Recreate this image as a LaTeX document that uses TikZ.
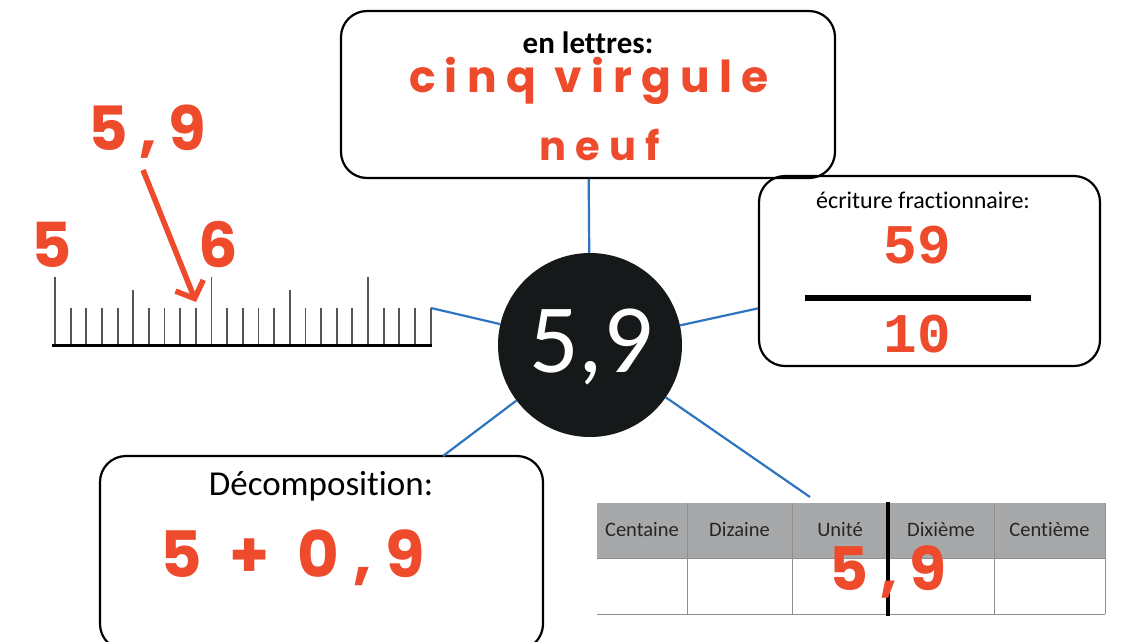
\documentclass[tikz,border=0pt]{standalone}
\usepackage{fontspec}
\setmainfont{Carlito}[Ligatures={NoCommon,NoRequired,NoContextual}]
\newfontfamily\redfont{Poppins}
\newfontfamily\courfont{Liberation Mono}
\usetikzlibrary{arrows.meta}
\definecolor{myred}{HTML}{EE4A2C}
\definecolor{myblue}{HTML}{2E74C0}
\definecolor{circ}{HTML}{161919}
\definecolor{hdr}{HTML}{A6A8A9}
\definecolor{tick}{HTML}{555555}
\definecolor{grid}{HTML}{8E8E8E}
\tikzset{
  card/.style={draw=black, line width=2.2pt, rounded corners=26pt, inner sep=0pt},
  conn/.style={draw=myblue, line width=2.2pt},
  redtxt/.style={text=myred, inner sep=0pt, anchor=base},
  blacktxt/.style={text=black, inner sep=0pt, anchor=base},
  hdrtxt/.style={text=black!85, inner sep=0pt, anchor=base, font=\fontsize{20.5}{22}\selectfont},
}
\newcommand{\fsz}[1]{\fontsize{#1}{#1}\selectfont}
\begin{document}
\begin{tikzpicture}[x=1pt,y=-1pt]
\useasboundingbox (0,0) rectangle (1128,641);
\fill[white] (0,0) rectangle (1128,641);

% --- boxes
\node[card, minimum width=494pt, minimum height=167pt] (topbox) at (588,94.5) {};
\node[card, minimum width=341pt, minimum height=190pt] (rightbox) at (929.5,271) {};
\node[card, minimum width=443pt, minimum height=194pt] (decobox) at (321.5,553) {};

% --- top box texts
\node[blacktxt, font=\fsz{31}\bfseries] (enl) at (588,53) {en lettres:};
\node[redtxt, font=\redfont\bfseries\fsz{44}\addfontfeatures{LetterSpace=21}] (cinq) at (589,92) {cinq virgule};
\node[redtxt, font=\redfont\bfseries\fsz{40}\addfontfeatures{LetterSpace=23}] (neuf) at (600,160) {neuf};

% --- right box texts
\node[blacktxt, font=\fsz{24}] (ecr) at (923,208) {écriture fractionnaire:};
\node[redtxt, font=\courfont\bfseries\fsz{56}] (num) at (917,263) {59};
\node[redtxt, font=\courfont\bfseries\fsz{56}] (den) at (917,352) {10};
\coordinate (fl) at (805,298);
\coordinate (fr) at (1031,298);
\draw[line width=6pt, black] (fl) -- (fr);

% --- decomposition texts
\node[blacktxt, font=\fsz{35}] (deco) at (321,495) {Décomposition:};
\node[redtxt, font=\redfont\bfseries\fsz{64}\addfontfeatures{LetterSpace=22}] (sum) at (293,577) {5 + 0,9};

% --- centre circle
\node[circle, fill=circ, minimum size=184pt, inner sep=0pt] (c) at (590,345) {};
\node[text=white, inner sep=0pt, anchor=base, font=\fsz{98}] (cval) at (591,372) {5,9};

% --- ruler
\coordinate (rl) at (52,345.5);
\coordinate (rr) at (432,345.5);
\foreach \i in {0,...,24}{
  \pgfmathsetmacro{\xx}{55+15.65*\i}
  \pgfmathsetmacro{\top}{ifthenelse(mod(\i,10)==0,277,ifthenelse(mod(\i,5)==0,290,308))}
  \draw[tick, line width=1.8pt] (\xx,345) -- (\xx,\top);
}
\draw[black, line width=2.8pt] (rl) -- (rr);
\coordinate (rulerend) at (431,308);
\node[redtxt, font=\redfont\bfseries\fsz{62}] (five) at (52,267) {5};
\node[redtxt, font=\redfont\bfseries\fsz{62}] (six) at (218,267) {6};
\node[redtxt, font=\redfont\bfseries\fsz{61}\addfontfeatures{LetterSpace=19}] (lbl) at (147,150) {5,9};
\coordinate (astart) at (143,170);
\coordinate (atip) at (196,302);
\draw[myred, line width=5.5pt, -{Straight Barb[length=14pt,width=30pt,line width=5.5pt]}] (astart) -- (atip);

% --- table
\fill[hdr] (597,503) rectangle (1105,558);
\draw[grid, line width=1pt] (597,558) -- (1105,558);
\draw[grid, line width=1pt] (597,614) -- (1105,614);
\foreach \xx in {687,792,994,1105}{
  \draw[grid, line width=1pt] (\xx,503) -- (\xx,614);
}
\draw[black, line width=3.5pt] (888,502) -- (888,616);
\node[hdrtxt] (h1) at (642,536) {Centaine};
\node[hdrtxt] (h2) at (739.5,536) {Dizaine};
\node[hdrtxt] (h3) at (840,536) {Unité};
\node[hdrtxt] (h4) at (941,536) {Dixième};
\node[hdrtxt] (h5) at (1049.5,536) {Centième};
\node[redtxt, font=\redfont\bfseries\fsz{60}\addfontfeatures{LetterSpace=20}] (tval) at (888,590) {5,9};
\coordinate (tabletop) at (810,497);
\coordinate (decotop) at (443,456);

% --- connectors
\draw[conn] (c) -- (topbox);
\draw[conn] (c) -- (rightbox);
\draw[conn] (c) -- (rulerend);
\draw[conn] (c) -- (decotop);
\draw[conn] (c) -- (tabletop);
\end{tikzpicture}
\end{document}
